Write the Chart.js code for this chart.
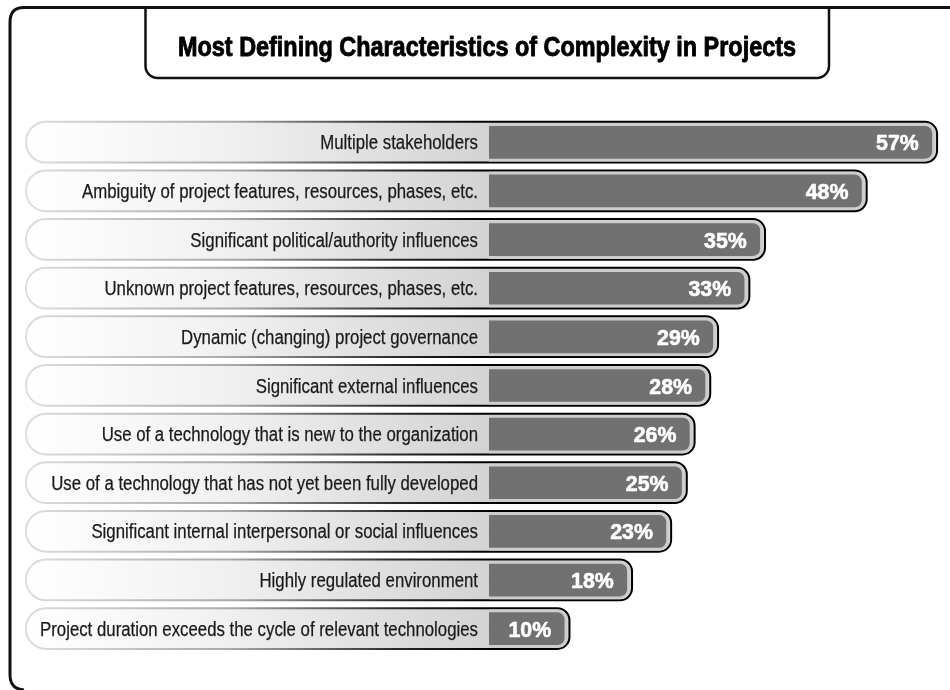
<!DOCTYPE html>
<html>
<head>
<meta charset="utf-8">
<title>Most Defining Characteristics of Complexity in Projects</title>
<script src="https://cdn.jsdelivr.net/npm/chart.js@4.4.0/dist/chart.umd.min.js"></script>
<style>
    html, body { margin: 0; padding: 0; background: #fff; }
    #wrap { width: 950px; height: 690px; }
</style>
</head>
<body>
<div id="wrap"><canvas id="complexity" width="950" height="690"></canvas></div>
<script>
var chartTitle = 'Most Defining Characteristics of Complexity in Projects'
var categories = [
    'Multiple stakeholders',
    'Ambiguity of project features, resources, phases, etc.',
    'Significant political/authority influences',
    'Unknown project features, resources, phases, etc.',
    'Dynamic (changing) project governance',
    'Significant external influences',
    'Use of a technology that is new to the organization',
    'Use of a technology that has not yet been fully developed',
    'Significant internal interpersonal or social influences',
    'Highly regulated environment',
    'Project duration exceeds the cycle of relevant technologies'
]
var percentages = [57, 48, 35, 33, 29, 28, 26, 25, 23, 18, 10]
var valueLabels = ['57%', '48%', '35%', '33%', '29%', '28%', '26%', '25%', '23%', '18%', '10%']

var SANS = '"Liberation Sans", Arial, sans-serif'

// squeezed text, the original uses a condensed face
function narrowText(ctx, text, x, y, font, squeeze, align, color, heavy) {
    ctx.save()
    ctx.font = font
    ctx.fillStyle = color
    ctx.textAlign = align
    ctx.textBaseline = 'alphabetic'
    ctx.translate(x, y)
    ctx.scale(squeeze, 1)
    ctx.fillText(text, 0, 0)
    if (heavy) {
        // fake a blacker weight
        ctx.strokeStyle = color
        ctx.lineWidth = heavy
        ctx.lineJoin = 'round'
        ctx.strokeText(text, 0, 0)
    }
    ctx.restore()
}

function roundRect(ctx, x0, y0, x1, y1, rl, rr) {
    ctx.beginPath()
    ctx.moveTo(x0 + rl, y0)
    ctx.lineTo(x1 - rr, y0)
    ctx.arcTo(x1, y0, x1, y0 + rr, rr)
    ctx.lineTo(x1, y1 - rr)
    ctx.arcTo(x1, y1, x1 - rr, y1, rr)
    ctx.lineTo(x0 + rl, y1)
    ctx.arcTo(x0, y1, x0, y1 - rl, rl)
    ctx.lineTo(x0, y0 + rl)
    ctx.arcTo(x0, y0, x0 + rl, y0, rl)
    ctx.closePath()
}

var framePlugin = {
    id: 'frame',
    beforeDraw: function (chart) {
        var ctx = chart.ctx
        ctx.save()
        ctx.fillStyle = '#fff'
        ctx.fillRect(0, 0, chart.width, chart.height)
        // outer frame, open on right and bottom
        ctx.strokeStyle = '#111'
        ctx.lineWidth = 3
        ctx.beginPath()
        ctx.moveTo(chart.width, 7.5)
        ctx.lineTo(24, 7.5)
        ctx.quadraticCurveTo(10, 7.5, 10, 22)
        ctx.lineTo(10, 675)
        ctx.quadraticCurveTo(10, 689, 24, 690)
        ctx.stroke()
        // title tab
        ctx.lineWidth = 2.5
        ctx.beginPath()
        ctx.moveTo(145.5, 7.5)
        ctx.lineTo(145.5, 66)
        ctx.arcTo(145.5, 78, 157.5, 78, 12)
        ctx.lineTo(817, 78)
        ctx.arcTo(829, 78, 829, 66, 12)
        ctx.lineTo(829, 7.5)
        ctx.stroke()
        ctx.font = 'bold 27px ' + SANS
        var w = ctx.measureText(chartTitle).width
        ctx.restore()
        narrowText(ctx, chartTitle, 487, 55.5, 'bold 27px ' + SANS, Math.min(1, 618 / w), 'center', '#000', 0.9)
    },
    beforeDatasetsDraw: function (chart) {
        var ctx = chart.ctx
        var meta = chart.getDatasetMeta(0)
        var left = chart.chartArea.left + 10
        meta.data.forEach(function (bar) {
            var right = bar.x + 3.5
            var top = bar.y - 21.5
            var bottom = bar.y + 21.5
            ctx.save()
            var fill = ctx.createLinearGradient(left, 0, bar.base, 0)
            fill.addColorStop(0, '#ffffff')
            fill.addColorStop(0.4, '#f2f2f2')
            fill.addColorStop(1, '#d3d3d3')
            roundRect(ctx, left + 1, top + 1, right - 1.25, bottom - 1.25, 20, 12)
            ctx.fillStyle = fill
            ctx.fill()
            var edge = ctx.createLinearGradient(left, 0, bar.base, 0)
            edge.addColorStop(0, '#dedede')
            edge.addColorStop(0.45, '#a8a8a8')
            edge.addColorStop(0.8, '#2a2a2a')
            edge.addColorStop(1, '#000')
            ctx.strokeStyle = edge
            ctx.lineWidth = 2
            ctx.stroke()
            ctx.restore()
        })
    },
    afterDatasetsDraw: function (chart) {
        var ctx = chart.ctx
        var meta = chart.getDatasetMeta(0)
        meta.data.forEach(function (bar, i) {
            narrowText(ctx, categories[i], bar.base - 11, bar.y + 7, '20px ' + SANS, 0.84, 'right', '#1a1a1a', 0.25)
            narrowText(ctx, valueLabels[i], bar.x - 16, bar.y + 8, 'bold 22px ' + SANS, 0.97, 'right', '#fff', 0.6)
        })
    }
}

var ctx = document.getElementById('complexity').getContext('2d')
var complexityChart = new Chart(ctx, {
    type: 'bar',
    data: {
        labels: categories,
        datasets: [{
            label: 'Share of respondents',
            data: percentages,
            backgroundColor: '#717171',
            borderColor: '#cdcdcd',
            borderWidth: { top: 3, right: 3, bottom: 3, left: 0 },
            borderSkipped: false,
            borderRadius: { topLeft: 0, bottomLeft: 0, topRight: 10, bottomRight: 10 },
            barThickness: 38
        }]
    },
    options: {
        indexAxis: 'y',
        responsive: false,
        animation: false,
        layout: { padding: { top: 118, bottom: 37, left: 15, right: 5 } },
        scales: {
            x: { display: false, min: -60.6, max: 58.3 },
            y: { display: false }
        },
        plugins: {
            legend: { display: false },
            tooltip: { enabled: false }
        }
    },
    plugins: [framePlugin]
})
</script>
</body>
</html>
